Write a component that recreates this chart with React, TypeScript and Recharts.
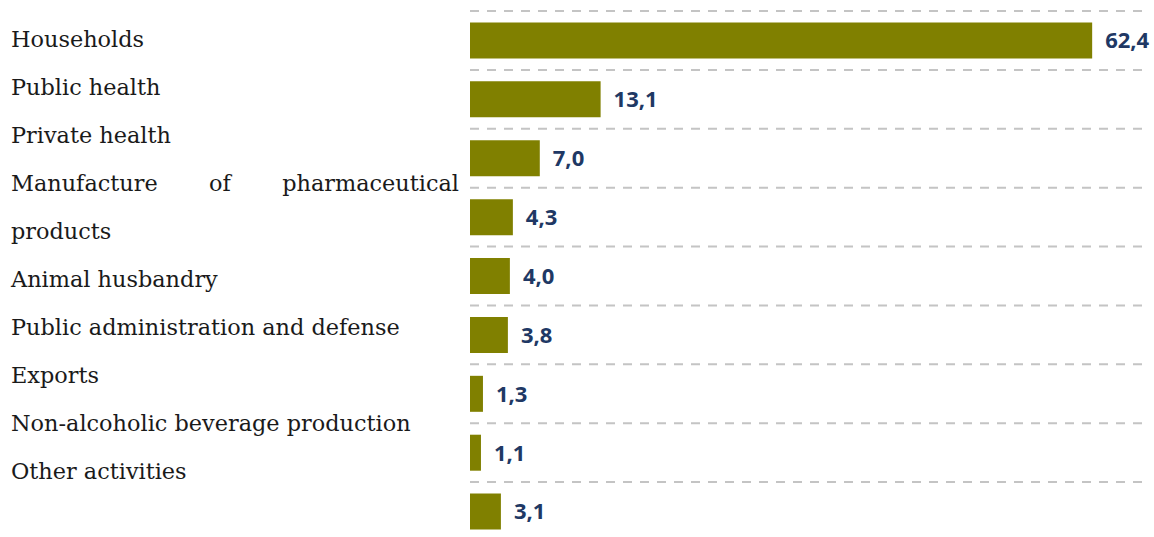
import React from 'react';
import { BarChart, Bar, XAxis, YAxis, CartesianGrid, LabelList } from 'recharts';

const categories = [
  'Households',
  'Public health',
  'Private health',
  'Manufacture of pharmaceutical products',
  'Animal husbandry',
  'Public administration and defense',
  'Exports',
  'Non-alcoholic beverage production',
  'Other activities',
];

const shares = [62.4, 13.1, 7.0, 4.3, 4.0, 3.8, 1.3, 1.1, 3.1];

// the source text block wraps this one label onto two lines
const labelLines: Record<string, string[]> = {
  'Manufacture of pharmaceutical products': ['Manufacture of pharmaceutical', 'products'],
};

const data = categories.map((name, i) => ({ name, value: shares[i] }));

const BAR_COLOR = '#808000';
const LABEL_COLOR = '#203864';

const fmt = (v: any) => Number(v).toFixed(1).replace('.', ',');

const App: React.FC = () => {
  return (
    <div style={{ position: 'fixed', inset: 0, overflow: 'hidden', background: '#fff' }}>
      {/* Left text column */}
      <div
        style={{
          position: 'absolute',
          left: 11,
          top: 15,
          width: 448,
          fontFamily: '"DejaVu Serif", serif',
          fontSize: 22.4,
          lineHeight: '48px',
          color: '#1a1a1a',
        }}
      >
        {categories.map(c =>
          (labelLines[c] || [c]).map((line, j, arr) => (
            <div
              key={c + j}
              style={{
                whiteSpace: 'nowrap',
                textAlign: 'justify',
                textAlignLast: j < arr.length - 1 ? 'justify' : 'left',
              }}
            >
              {line}
            </div>
          ))
        )}
      </div>

      {/* Chart */}
      <div style={{ position: 'absolute', left: 0, top: 0 }}>
        <BarChart
          width={1154}
          height={545}
          data={data}
          layout="vertical"
          margin={{ top: 11, right: 6, bottom: 4, left: 470 }}
          barCategoryGap="19.5%"
        >
          <CartesianGrid
            vertical={false}
            stroke="#c4c4c4"
            strokeWidth={2}
            strokeDasharray="9 8"
            horizontalCoordinatesGenerator={({ offset }: any) =>
              categories.map((_, i) => offset.top + (i * offset.height) / categories.length).concat(offset.top + offset.height)
            }
          />
          <XAxis type="number" domain={[0, 68]} hide />
          <YAxis
            type="category"
            dataKey="name"
            width={0}
            tick={false}
            tickLine={false}
            axisLine={{ stroke: '#d9d9d9', strokeWidth: 1 }}
          />
          <Bar dataKey="value" fill={BAR_COLOR} isAnimationActive={false}>
            <LabelList
              dataKey="value"
              position="right"
              offset={13}
              formatter={fmt}
              fill={LABEL_COLOR}
              style={{ fontFamily: '"Open Sans", sans-serif', fontWeight: 700, fontSize: 22 }}
            />
          </Bar>
        </BarChart>
      </div>
    </div>
  );
};

export default App;
